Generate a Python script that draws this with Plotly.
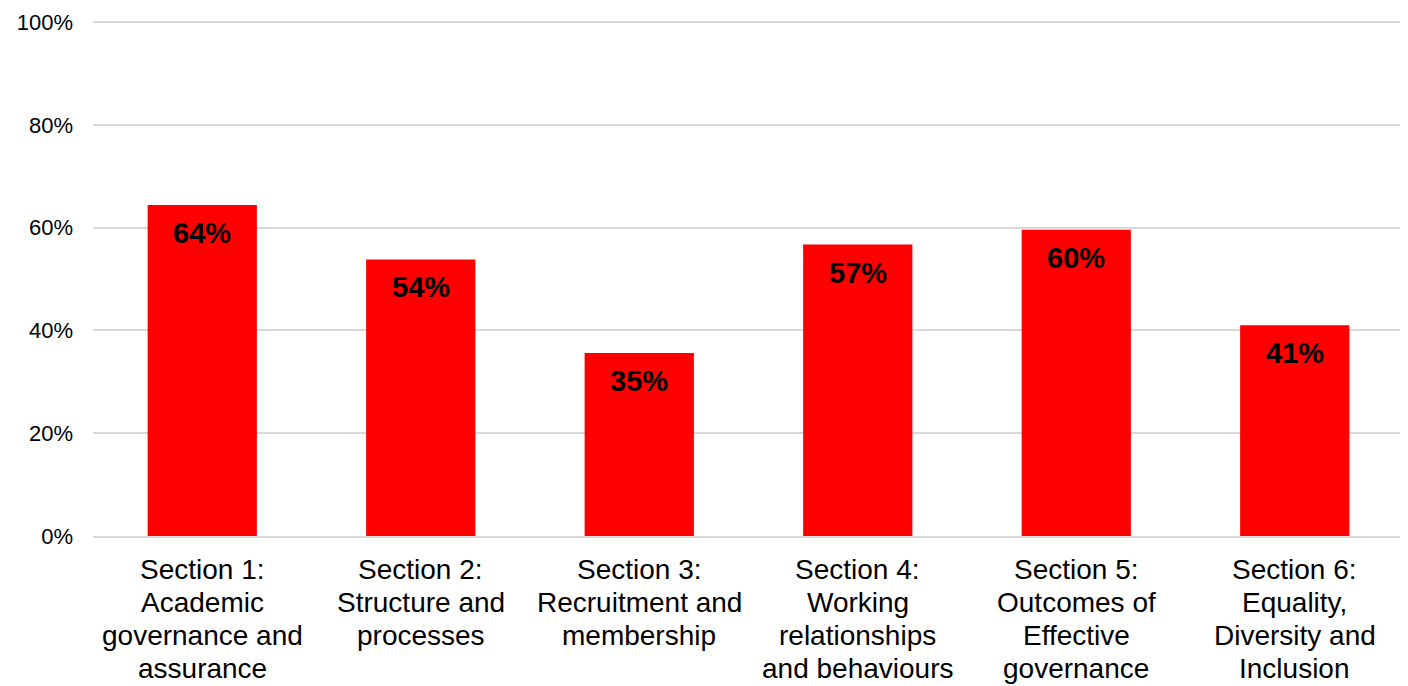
import plotly.graph_objects as go

category_lines = [
    ["Section 1:", "Academic", "governance and", "assurance"],
    ["Section 2:", "Structure and", "processes"],
    ["Section 3:", "Recruitment and", "membership"],
    ["Section 4:", "Working", "relationships", "and behaviours"],
    ["Section 5:", "Outcomes of", "Effective", "governance"],
    ["Section 6:", "Equality,", "Diversity and", "Inclusion"],
]
categories = [" ".join(lines) for lines in category_lines]
values = [0.644, 0.538, 0.356, 0.567, 0.596, 0.41]
labels = ["64%", "54%", "35%", "57%", "60%", "41%"]
ytick_vals = [0, 0.2, 0.4, 0.6, 0.8, 1.0]
ytick_text = ["0%", "20%", "40%", "60%", "80%", "100%"]

FONT = "Liberation Sans, Arial"

fig = go.Figure()
fig.add_trace(go.Bar(
    x=categories, y=values, width=0.5,
    marker=dict(color="#FF0000", line=dict(width=0)),
    hoverinfo="skip",
))
for c, v, t in zip(categories, values, labels):
    fig.add_annotation(x=c, y=v, text="<b>" + t + "</b>", showarrow=False,
                       yanchor="top", yshift=-10,
                       font=dict(family=FONT, size=29, color="black"))

# category labels, one text line per annotation (tighter line spacing)
for c, lines in zip(categories, category_lines):
    for i, line in enumerate(lines):
        fig.add_annotation(x=c, y=0, xref="x", yref="y", text=line,
                           showarrow=False, yanchor="middle",
                           yshift=-(33 + 33.3 * i),
                           font=dict(family=FONT, size=28, color="black"))

fig.update_layout(
    width=1400, height=678,
    margin=dict(l=85, r=4, t=13, b=150, autoexpand=False),
    plot_bgcolor="white", paper_bgcolor="white",
    showlegend=False,
    font=dict(family=FONT, color="black"),
)
fig.update_xaxes(showticklabels=False, showgrid=False,
                 showline=True, linecolor="#d9d9d9", linewidth=1.5,
                 ticks="", automargin=False)
fig.update_yaxes(range=[0, 1.002], tickvals=ytick_vals, ticktext=ytick_text,
                 tickfont=dict(size=22, color="black"),
                 showgrid=True, gridcolor="#d9d9d9", gridwidth=1.5,
                 zeroline=False, ticks="", ticklabelstandoff=19,
                 ticklabeloverflow="allow", automargin=False)
fig.write_html("out.html")
